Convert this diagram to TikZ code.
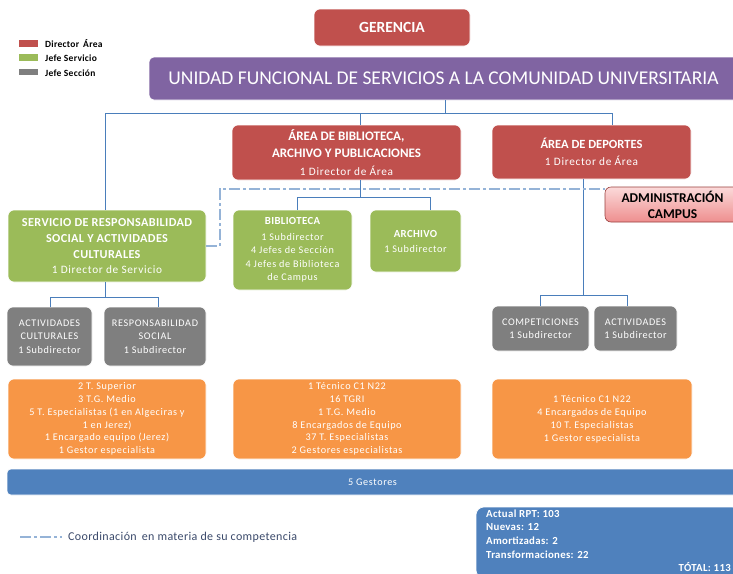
\documentclass[tikz,border=0pt]{standalone}
\usepackage{fontspec}
\setmainfont{Carlito}
\newfontfamily\spfont[LetterSpace=6]{Carlito}
\newfontfamily\spfontb[LetterSpace=3]{Carlito}
\usetikzlibrary{calc}
\definecolor{cred}{HTML}{C0504D}
\definecolor{cpur}{HTML}{8064A2}
\definecolor{cgreen}{HTML}{9BBB59}
\definecolor{cgray}{HTML}{7F7F7F}
\definecolor{corange}{HTML}{F79646}
\definecolor{cblue}{HTML}{4F81BD}
\definecolor{cline}{HTML}{4A7EBB}
\definecolor{cdash}{HTML}{95B3D7}
\definecolor{clegtext}{HTML}{3B4A6B}
\definecolor{cadmtop}{HTML}{FBDADA}
\definecolor{cadmbot}{HTML}{EE8E8E}
\newcommand\fbig{\fontsize{13}{18}\selectfont\bfseries}
\newcommand\fmid{\spfont\fontsize{11.3}{17}\selectfont}
\newcommand\fsm{\spfont\fontsize{10.2}{13}\selectfont}
\newcommand\fsmb{\spfontb\fontsize{10.8}{13.5}\selectfont\bfseries}
\begin{document}
\begin{tikzpicture}[x=1pt,y=-1pt,
  box/.style={rounded corners=6pt, inner sep=0pt, text=white, align=center, draw=white, line width=0.6pt},
  redbox/.style={box, fill=cred},
  greenbox/.style={box, fill=cgreen},
  graybox/.style={box, fill=cgray},
  orangebox/.style={box, fill=corange},
  bluebox/.style={box, fill=cblue},
  conn/.style={draw=cline, line width=1pt},
  coordline/.style={draw=cdash, line width=1.6pt, dash pattern=on 11pt off 3pt on 3pt off 3pt},
  swatch/.style={inner sep=0pt, minimum width=19pt, minimum height=6.5pt},
  legtext/.style={anchor=west, inner sep=0pt, font=\spfontb\fontsize{9.5}{10}\selectfont\bfseries},
]
\useasboundingbox[fill=white] (0,0) rectangle (733,573);

% legend
\node[swatch, fill=cred] (sw1) at (28.5,43.5) {};
\node[swatch, fill=cgreen] (sw2) at (28.5,57.5) {};
\node[swatch, fill=cgray] (sw3) at (28.5,72) {};
\node[legtext] (lg1) at (45,44) {Director\, Área};
\node[legtext] (lg2) at (45,58.5) {Jefe Servicio};
\node[legtext] (lg3) at (45,73) {Jefe Sección};

% top
\node[redbox, minimum width=156, minimum height=37, font=\fontsize{15.5}{18}\selectfont\bfseries] (ger) at (392,27.5) {GERENCIA};
\node[box, fill=cpur, rounded corners=5pt, minimum width=589, minimum height=43, font=\fontsize{19.5}{24}\selectfont] (una) at (443.5,78.5) {UNIDAD FUNCIONAL DE SERVICIOS A LA COMUNIDAD UNIVERSITARIA};

% areas
\node[redbox, minimum width=229, minimum height=55, font=\fontsize{13}{17.5}\selectfont] (abap) at (346.5,152.5)
  {\fbig ÁREA DE BIBLIOTECA,\\ \fbig ARCHIVO Y PUBLICACIONES\\ \fmid 1 Director de Área};
\node[redbox, minimum width=199, minimum height=54, font=\fontsize{13}{17}\selectfont] (dep) at (591.5,152)
  {\fontsize{12.5}{17}\selectfont\bfseries ÁREA DE DEPORTES\\ \fmid 1 Director de Área};
\node[box, text=black, top color=cadmtop, bottom color=cadmbot, draw=cred!80!black, line width=0.6pt, minimum width=135, minimum height=35, font=\fontsize{13.5}{16}\selectfont\bfseries] (adm) at (672.5,204.5)
  {ADMINISTRACIÓN\\ CAMPUS};

% services
\node[greenbox, minimum width=198, minimum height=72, font=\fontsize{12}{16}\selectfont] (srs) at (107,246)
  {\spfontb\fontsize{12.2}{16}\selectfont\bfseries SERVICIO DE RESPONSABILIDAD\\ \spfontb\fontsize{12.2}{16}\selectfont\bfseries SOCIAL Y ACTIVIDADES\\ \spfontb\fontsize{12.2}{16}\selectfont\bfseries CULTURALES\\[-1.5pt] \spfont\fontsize{11.3}{14}\selectfont 1 Director de Servicio};
\node[greenbox, minimum width=119, minimum height=80, font=\fontsize{10}{13.5}\selectfont] (bib) at (292.5,250)
  {\fsmb BIBLIOTECA\\[2.5pt] \fsm 1 Subdirector\\ \fsm 4 Jefes de Sección\\ \fsm 4 Jefes de Biblioteca\\ \fsm de Campus};
\node[greenbox, minimum width=91, minimum height=62, font=\fontsize{10}{15}\selectfont] (arch) at (415.5,241)
  {\fsmb ARCHIVO\\ \fsm 1 Subdirector};

% sections
\node[graybox, minimum width=85, minimum height=59, font=\fontsize{10}{13.5}\selectfont] (acu) at (49.5,336.5)
  {\fsm ACTIVIDADES\\ \fsm CULTURALES\\ \fsm 1 Subdirector};
\node[graybox, minimum width=102, minimum height=59, font=\fontsize{10}{13.5}\selectfont] (rso) at (155,336.5)
  {\fsm RESPONSABILIDAD\\ \fsm SOCIAL\\ \fsm 1 Subdirector};
\node[graybox, minimum width=97, minimum height=45, font=\fontsize{10}{13}\selectfont] (comp) at (540.5,328.5)
  {\fsm COMPETICIONES\\ \fsm 1 Subdirector};
\node[graybox, minimum width=83, minimum height=45, font=\fontsize{10}{13}\selectfont] (act) at (635.5,328.5)
  {\fsm ACTIVIDADES\\ \fsm 1 Subdirector};

% staff
\node[orangebox, minimum width=198, minimum height=80, font=\fontsize{10}{12.8}\selectfont] (or1) at (107,419)
  {\fsm 2 T. Superior\\ \fsm 3 T.G. Medio\\ \fsm 5 T. Especialistas (1 en Algeciras y\\ \fsm 1 en Jerez)\\ \fsm 1 Encargado equipo (Jerez)\\ \fsm 1 Gestor especialista};
\node[orangebox, minimum width=228, minimum height=80, font=\fontsize{10}{12.8}\selectfont] (or2) at (347,419)
  {\fsm 1 Técnico C1 N22\\ \fsm 16 TGRI\\ \fsm 1 T.G. Medio\\ \fsm 8 Encargados de Equipo\\ \fsm 37 T. Especialistas\\ \fsm 2 Gestores especialistas};
\node[orangebox, minimum width=200, minimum height=80, font=\fontsize{10}{13}\selectfont] (or3) at (592,419)
  {\fsm 1 Técnico C1 N22\\ \fsm 4 Encargados de Equipo\\ \fsm 10 T. Especialistas\\ \fsm 1 Gestor especialista};

\node[bluebox, rounded corners=4pt, minimum width=731, minimum height=26, font=\fsm] (bar) at (372.5,482) {5 Gestores};

% totals
\node[bluebox, rounded corners=8pt, minimum width=264, minimum height=71] (tot) at (608,542.5) {};
\node[anchor=west, inner sep=0pt, text=white, align=left, font=\spfontb\fontsize{10.8}{13.6}\selectfont\bfseries] (totl) at (486,534)
  {Actual RPT: 103\\ Nuevas: 12\\ Amortizadas: 2\\ Transformaciones: 22};
\node[anchor=east, inner sep=0pt, text=white, font=\spfontb\fontsize{10.8}{12}\selectfont\bfseries] (totr) at (731,567) {TÓTAL: 113};

% bottom legend
\coordinate (lgA) at (20,537);
\coordinate (lgB) at (62,537);
\draw[coordline] (lgA) -- (lgB);
\node[anchor=west, inner sep=0pt, text=clegtext, font=\spfontb\fontsize{12}{13}\selectfont] (lgc) at (68,537) {Coordinación\, en materia de su competencia};

% connectors
\coordinate (jt) at (445,113);
\coordinate (jl) at (105,113);
\coordinate (jr) at (612,113);
\coordinate (ja) at (360,113);
\draw[conn] (una.south -| jt) -- (jt);
\draw[conn] (jl |- srs.north) -- (jl) -- (jr) -- (jr |- dep.north);
\draw[conn] (ja) -- (ja |- abap.north);

\coordinate (jb) at (360,197);
\coordinate (jb1) at (297,197);
\coordinate (jb2) at (430,197);
\draw[conn] (jb |- abap.south) -- (jb);
\draw[conn] (jb1 |- bib.north) -- (jb1) -- (jb2) -- (jb2 |- arch.north);

\coordinate (jd) at (583,295);
\coordinate (jd1) at (540,295);
\coordinate (jd2) at (627,295);
\draw[conn] (jd |- dep.south) -- (jd);
\draw[conn] (jd1 |- comp.north) -- (jd1) -- (jd2) -- (jd2 |- act.north);

\coordinate (js) at (105,297);
\coordinate (js1) at (50,297);
\coordinate (js2) at (158,297);
\draw[conn] (js |- srs.south) -- (js);
\draw[conn] (js1 |- acu.north) -- (js1) -- (js2) -- (js2 |- rso.north);

% coordination line
\coordinate (jc) at (220,189);
\draw[coordline] (srs.east) -| (jc) -- (jc -| adm.west);
\end{tikzpicture}
\end{document}
